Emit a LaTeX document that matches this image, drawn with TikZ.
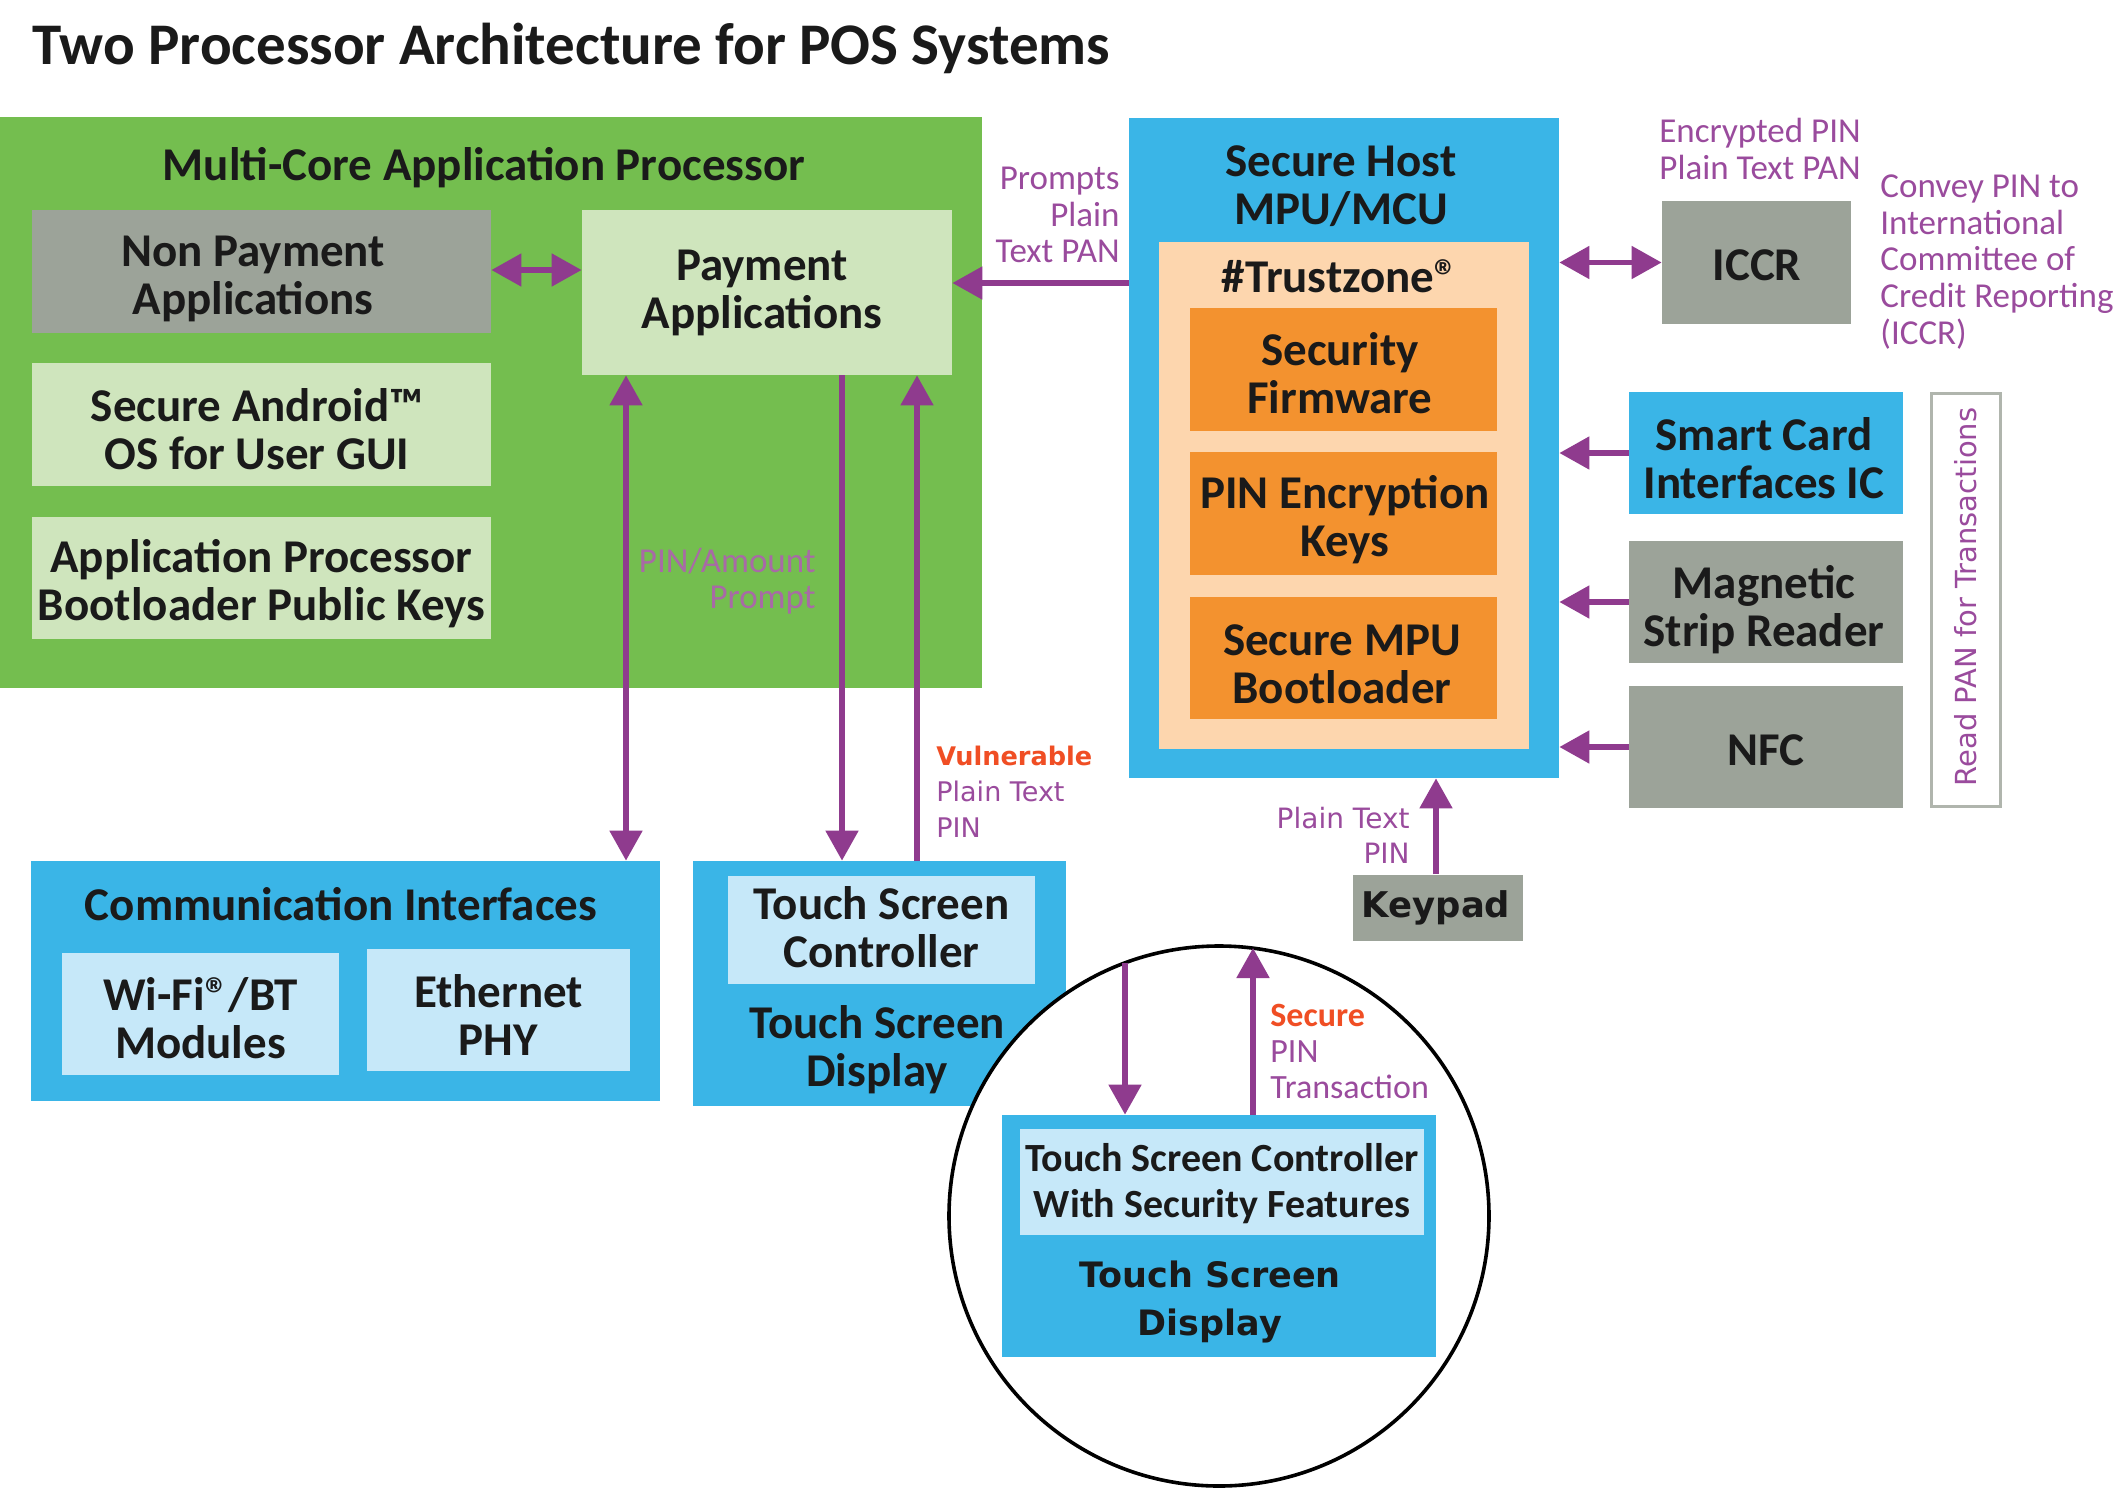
\documentclass[tikz,border=0pt]{standalone}
\usepackage{fontspec}
\setmainfont{Carlito}
\newfontfamily\dvs{DejaVu Sans}
\usetikzlibrary{arrows.meta}
\definecolor{cgreen}{HTML}{74BE4F}
\definecolor{clgreen}{HTML}{CFE5BD}
\definecolor{cgray}{HTML}{9CA399}
\definecolor{cblue}{HTML}{3AB5E7}
\definecolor{clblue}{HTML}{C6E8F9}
\definecolor{cpeach}{HTML}{FDD6AE}
\definecolor{corange}{HTML}{F3922F}
\definecolor{cparrow}{HTML}{8F3B8E}
\definecolor{cplbl}{HTML}{9A4B9D}
\definecolor{cpmuted}{HTML}{A86AA6}
\definecolor{cred}{HTML}{F04E24}
\definecolor{ctxt}{HTML}{1A1A1A}
\begin{document}
\begin{tikzpicture}[x=0.5pt,y=-0.5pt,
  fbox/.style={draw=none, inner sep=0pt},
  box/.style={draw=none, inner sep=0pt, align=center, text=ctxt,
    font=\fontsize{23.5}{24}\selectfont\bfseries},
  lbl/.style={text=cplbl, inner sep=0pt, font=\fontsize{17.5}{18.3}\selectfont},
  vlbl/.style={text=cplbl, inner sep=0pt, font=\dvs\fontsize{13.5}{18}\selectfont},
  arr/.style={draw=cparrow, line width=2.6pt, -{Triangle[width=16pt,length=15pt]}},
  darr/.style={draw=cparrow, line width=2.6pt, {Triangle[width=16pt,length=15pt]}-{Triangle[width=16pt,length=15pt]}}
]
\useasboundingbox (0,0) rectangle (2126,1505);
\fill[white] (0,0) rectangle (2126,1505);

% title
\node[anchor=base west, inner sep=0pt, text=ctxt, font=\fontsize{29.5}{32}\selectfont\bfseries] (title) at (32,64) {Two Processor Architecture for POS Systems};

% application processor
\node[fbox, fill=cgreen, minimum width=491pt, minimum height=285.5pt] (mcap) at (491,402.5) {};
\node[box] (mcapt) at (484,168) {Multi-Core Application Processor};
\node[fbox, fill=cgray, minimum width=229.5pt, minimum height=61.5pt] (nonpay) at (261.5,271.5) {};
\node[box] (nonpayt) at (253,279) {Non Payment\\Applications};
\node[fbox, fill=clgreen, minimum width=185pt, minimum height=82.5pt] (pay) at (767,292.5) {};
\node[box] (payt) at (762,293) {Payment\\Applications};
\node[fbox, fill=clgreen, minimum width=229.5pt, minimum height=61.5pt] (android) at (261.5,424.5) {};
\node[box] (androidt) at (257,429) {Secure Android™\\OS for User GUI};
\node[fbox, fill=clgreen, minimum width=229.5pt, minimum height=61pt] (apkeys) at (261.5,578) {};
\node[box] (apkeyst) at (261.5,584) {Application Processor\\Bootloader Public Keys};

% secure host
\node[fbox, fill=cblue, minimum width=215pt, minimum height=330pt] (host) at (1344,448) {};
\node[box] (hostt) at (1341,186) {Secure Host\\MPU/MCU};
\node[fbox, fill=cpeach, minimum width=185pt, minimum height=253.5pt] (tz) at (1344,495.5) {};
\node[box] (tzt) at (1340,276) {\#Trustzone®};
\node[fbox, fill=corange, minimum width=153.5pt, minimum height=61.5pt] (secfw) at (1343.5,369.5) {};
\node[box] (secfwt) at (1340,373) {Security\\Firmware};
\node[fbox, fill=corange, minimum width=153.5pt, minimum height=61.5pt] (pinkeys) at (1343.5,513.5) {};
\node[box] (pinkeyst) at (1345,520) {PIN Encryption\\Keys};
\node[fbox, fill=corange, minimum width=153.5pt, minimum height=61pt] (mpubl) at (1343.5,658) {};
\node[box] (mpublt) at (1342,664) {Secure MPU\\Bootloader};

% right side
\node[fbox, fill=cgray, minimum width=94.5pt, minimum height=61.5pt] (iccr) at (1756.5,262.5) {};
\node[box] (iccrt) at (1757,265) {ICCR};
\node[fbox, fill=cblue, minimum width=137pt, minimum height=61pt] (smart) at (1766,453) {};
\node[box] (smartt) at (1764,458) {Smart Card\\Interfaces IC};
\node[fbox, fill=cgray, minimum width=137pt, minimum height=61pt] (mag) at (1766,602) {};
\node[box] (magt) at (1764,610) {Magnetic\\Strip Reader};
\node[fbox, fill=cgray, minimum width=137pt, minimum height=61pt] (nfc) at (1766,747) {};
\node[box] (nfct) at (1766,750) {NFC};
\node[draw=cgray!80!white, line width=1.6pt, fill=white, minimum width=34.5pt, minimum height=206.5pt, inner sep=0pt] (readpan) at (1966,600) {};
\node[rotate=90, text=cplbl, inner sep=0pt, font=\dvs\fontsize{14.5}{16}\selectfont] (readpant) at (1966,597) {Read PAN for Transactions};

% bottom left
\node[fbox, fill=cblue, minimum width=314.5pt, minimum height=120pt] (comm) at (345.5,981) {};
\node[box] (commt) at (341,904) {Communication Interfaces};
\node[fbox, fill=clblue, minimum width=138.5pt, minimum height=61pt] (wifi) at (200.5,1014) {};
\node[box] (wifit) at (200.5,1018) {Wi-Fi®/BT\\Modules};
\node[fbox, fill=clblue, minimum width=131.5pt, minimum height=61pt] (eth) at (498.5,1010) {};
\node[box] (etht) at (498.5,1015) {Ethernet\\PHY};

\node[fbox, fill=cblue, minimum width=186.5pt, minimum height=122.5pt] (touch) at (879.5,983.5) {};
\node[fbox, fill=clblue, minimum width=153.5pt, minimum height=54pt] (tsc) at (881.5,930) {};
\node[box] (tsct) at (881.5,927) {Touch Screen\\Controller};
\node[box] (toucht) at (877,1050) {Touch Screen\\Display};

% keypad
\node[fbox, fill=cgray, minimum width=85pt, minimum height=33pt] (keypad) at (1438,907.5) {};
\node[box, font=\dvs\fontsize{17.7}{20}\selectfont\bfseries] (keypadt) at (1436,908) {Keypad};

% circle
\node[circle, draw=black, line width=1.8pt, fill=white, minimum size=270pt, inner sep=0pt] (circ) at (1219,1216) {};
\node[fbox, fill=cblue, minimum width=217pt, minimum height=121pt] (itouch) at (1218.5,1236) {};
\node[fbox, fill=clblue, minimum width=202pt, minimum height=53pt] (itsc) at (1222,1182) {};
\node[box, font=\fontsize{20}{23}\selectfont\bfseries] (itsct) at (1222,1184) {Touch Screen Controller\\With Security Features};
\node[box, font=\dvs\fontsize{17.5}{24.4}\selectfont\bfseries] (itoucht) at (1210,1302) {Touch Screen\\Display};

% labels
\node[lbl, anchor=east, align=right] (lprompts) at (1120,215) {Prompts\\Plain\\Text PAN};
\node[lbl, anchor=east, align=right, text=cpmuted] (lpin) at (816,581) {PIN/Amount\\Prompt};
\node[lbl, anchor=west, align=left] (lenc) at (1659,149) {Encrypted PIN\\Plain Text PAN};
\node[lbl, anchor=west, align=left] (lconvey) at (1880,262) {Convey PIN to\\International\\Committee of\\Credit Reporting\\(ICCR)};
\node[vlbl, anchor=west, align=left] (lvuln) at (936,792) {\textcolor{cred}{\bfseries\fontsize{12.8}{18}\selectfont Vulnerable}\\Plain Text\\PIN};
\node[vlbl, anchor=east, align=right, font=\dvs\fontsize{14}{17.6}\selectfont] (lkey) at (1410,835) {Plain Text\\PIN};
\node[lbl, anchor=west, align=left, font=\fontsize{17}{18}\selectfont] (lsecure) at (1270,1051) {\textcolor{cred}{\bfseries Secure}\\PIN\\Transaction};

% helper coordinates
\coordinate (y270) at (0,270);
\coordinate (y283) at (0,283);
\coordinate (x626) at (626,0);
\coordinate (x842) at (842,0);
\coordinate (x917) at (917,0);
\coordinate (x1436) at (1436,0);
\coordinate (cdown) at (1125,963);
\coordinate (cup) at (1253,948);

% connectors
\draw[darr] (nonpay.east |- y270) -- (pay.west |- y270);
\draw[arr] (host.west |- y283) -- (pay.east |- y283);
\draw[darr] (pay.south -| x626) -- (comm.north -| x626);
\draw[arr] (pay.south -| x842) -- (touch.north -| x842);
\draw[arr] (touch.north -| x917) -- (pay.south -| x917);
\draw[darr] (host.east |- iccr.west) -- (iccr.west);
\draw[arr] (smart.west) -- (smart.west -| host.east);
\draw[arr] (mag.west) -- (mag.west -| host.east);
\draw[arr] (nfc.west) -- (nfc.west -| host.east);
\draw[arr] (keypad.north -| x1436) -- (host.south -| x1436);
\draw[arr] (cdown) -- (itouch.north -| cdown);
\draw[arr] (itouch.north -| cup) -- (cup);
\end{tikzpicture}
\end{document}
